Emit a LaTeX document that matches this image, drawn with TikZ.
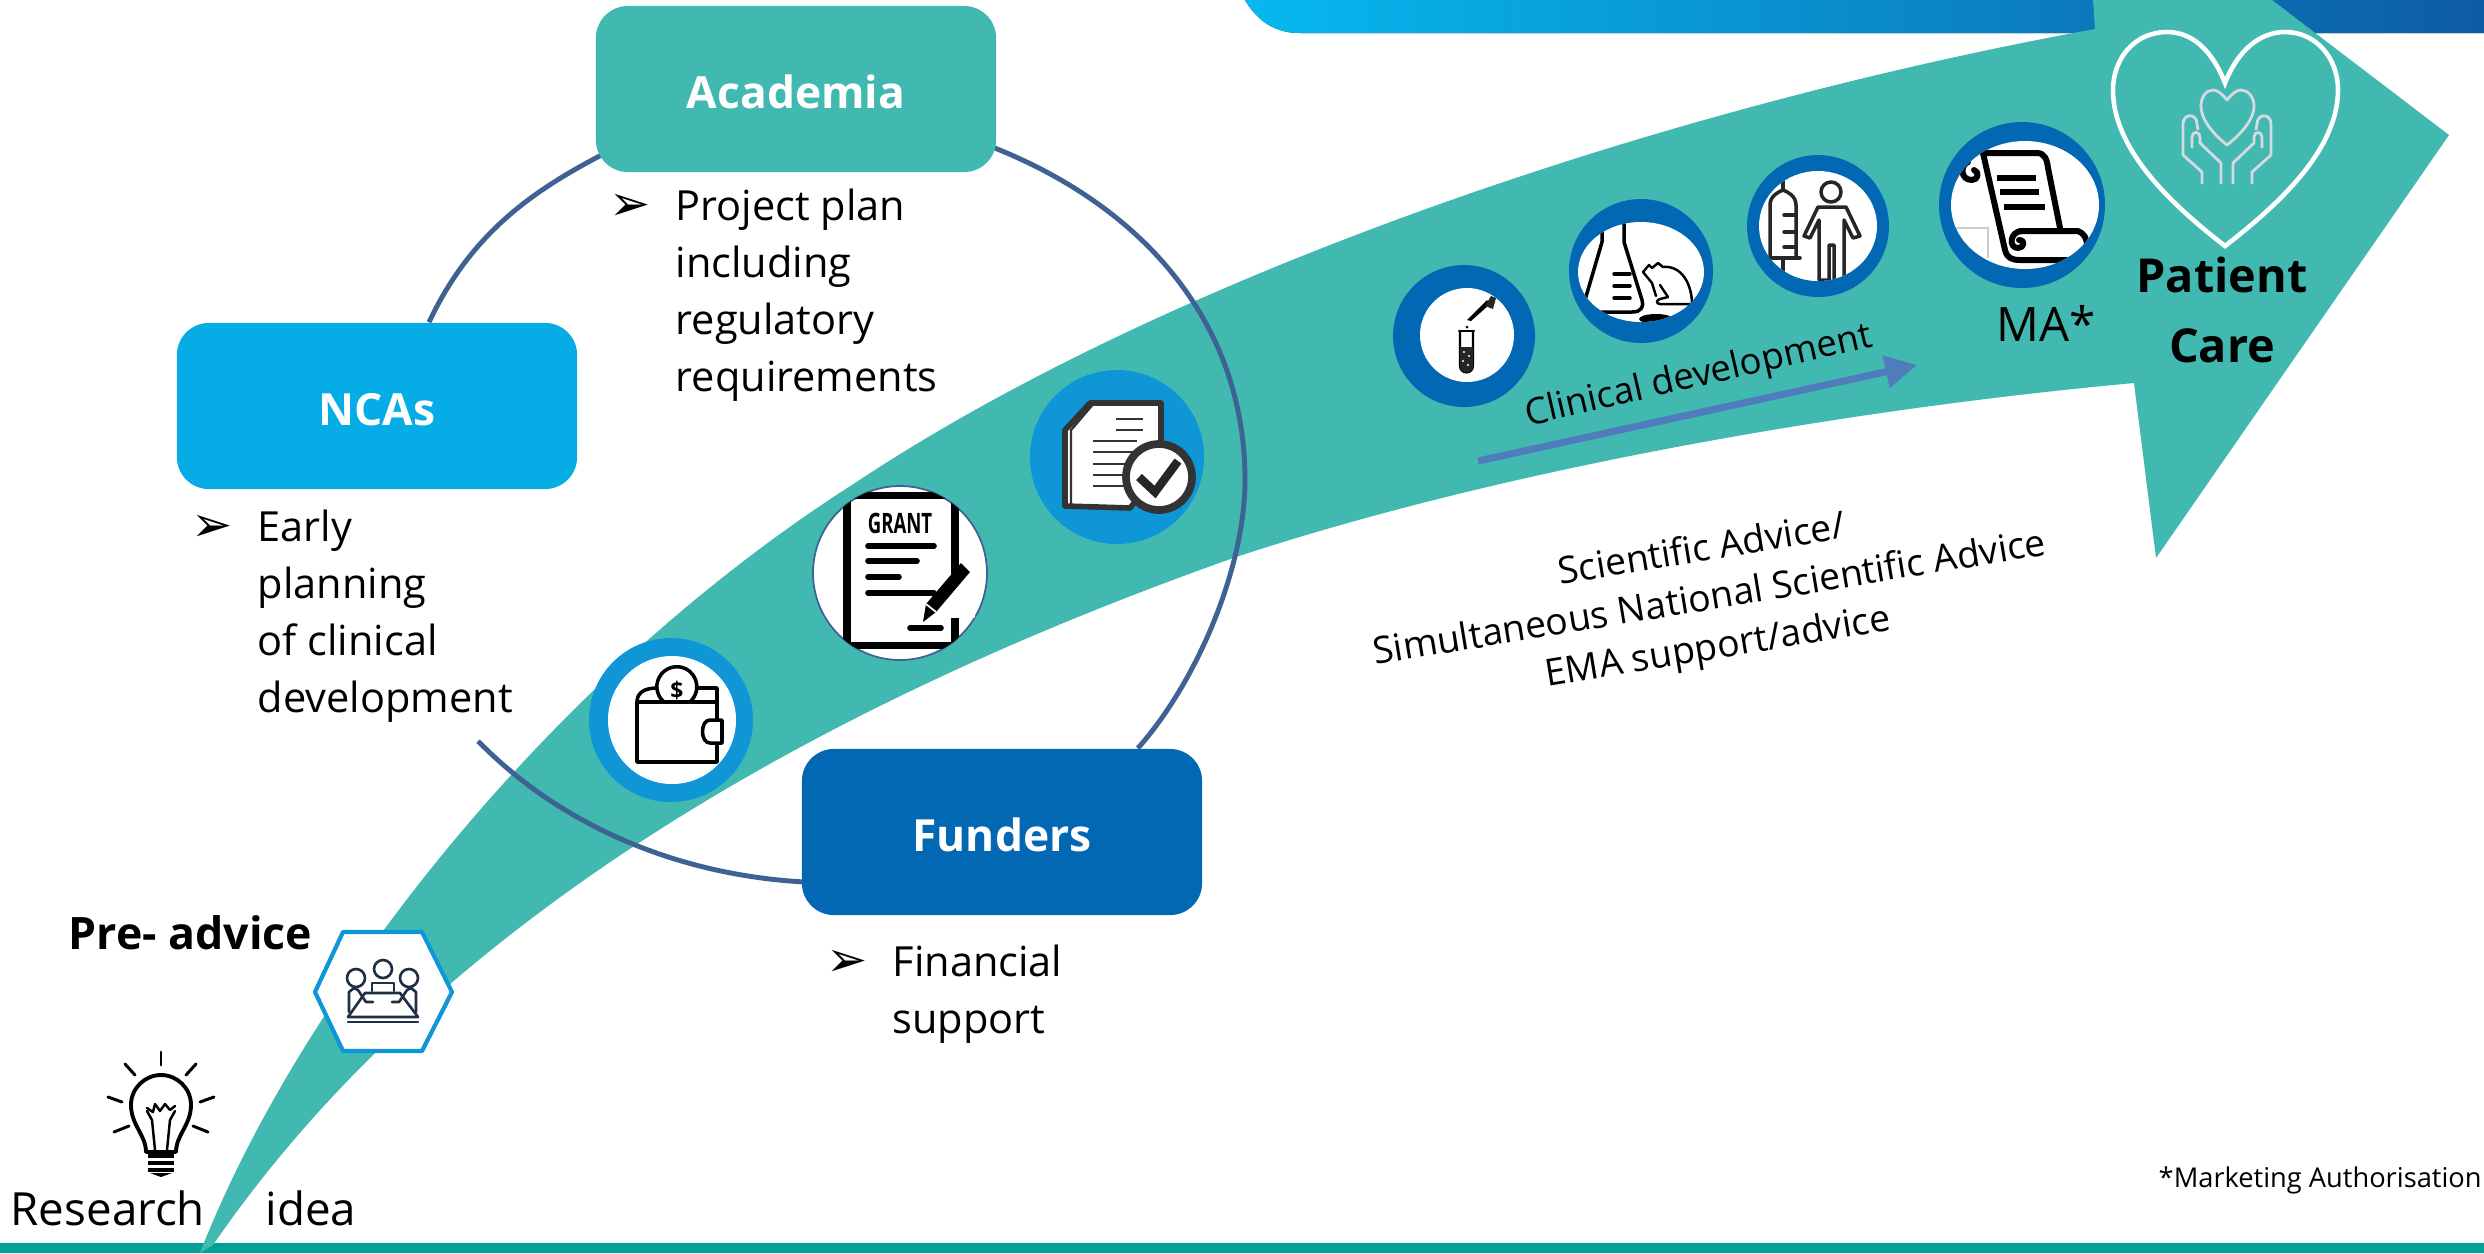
\documentclass[tikz,border=0pt]{standalone}
\usepackage{fontspec}
\setmainfont{Open Sans}
\newfontfamily\markfont{DejaVu Sans}
\usetikzlibrary{arrows.meta,backgrounds,calc}

\definecolor{arrowteal}{HTML}{41B9B1}
\definecolor{barteal}{HTML}{00A096}
\definecolor{ncablue}{HTML}{06ACE6}
\definecolor{deepblue}{HTML}{0368B4}
\definecolor{ringblue}{HTML}{0F96D7}
\definecolor{arcblue}{HTML}{3E6293}
\definecolor{flowblue}{HTML}{4F7DBB}
\definecolor{handgrey}{HTML}{D5DAE2}
\definecolor{iconnavy}{HTML}{1F2F45}
\definecolor{bannerleft}{HTML}{06B9EF}
\definecolor{bannermid}{HTML}{0585CC}
\definecolor{bannerright}{HTML}{0D5CA4}

\newcommand{\listmark}{\llap{{\markfont\fontsize{14}{14}\selectfont ➢}\hspace{7pt}}}

\tikzset{
  partner box/.style={rounded corners=0.32cm,minimum width=4cm,minimum height=1.66cm,
    inner sep=0pt,text=white,text height=11pt,text depth=0pt,font=\fontsize{12.6}{15}\selectfont\bfseries},
  list text/.style={anchor=north west,align=left,inner sep=0pt,font=\fontsize{11.8}{16.2}\selectfont},
  plain text/.style={inner sep=0pt,font=\fontsize{13}{15}\selectfont},
  bold text/.style={inner sep=0pt,align=center,font=\fontsize{13.3}{19.8}\selectfont\bfseries},
  slanted text/.style={inner sep=0pt,align=center,font=\fontsize{10.6}{14}\selectfont},
  arc line/.style={arcblue,line width=1.4pt},
  icon line/.style={black,line width=1pt,line cap=round,line join=round},
  thick icon/.style={black,line width=1.7pt,line cap=round,line join=round},
  ray line/.style={black,line width=0.85pt,line cap=round}
}

\begin{document}
\begin{tikzpicture}[x=0.01cm,y=-0.01cm]
    \useasboundingbox (0,0) rectangle (2484,1253);

    % partner boxes
    \node[partner box,fill=arrowteal] (academia) at (796,89) {Academia};
    \node[partner box,fill=ncablue] (ncas) at (377,406) {NCAs};
    \node[partner box,fill=deepblue] (funders) at (1002,832) {Funders};

    \begin{scope}[on background layer]
        \fill[left color=bannerleft,middle color=bannermid,right color=bannerright]
            (1245,0) .. controls (1258,22) and (1276,33) .. (1300,33) -- (2484,33) -- (2484,0) -- cycle;
        \fill[barteal] (0,1243) rectangle (2484,1253);

        % big arrow
        \fill[arrowteal] (200,1253) .. controls (290,1020) and (530,690) .. (855,483)
            .. controls (1160,280) and (1650,110) .. (2095,29)
            -- (2093,0) -- (2272,0) -- (2449,135) -- (2156,558) -- (2134,383)
            .. controls (1840,410) and (1500,470) .. (1236,557)
            .. controls (860,690) and (450,900) .. (213,1245)
            -- cycle;

        % ring of partners
        \coordinate (rightmid) at (1245,480);
        \coordinate (arcend) at (478,741);
        \draw[arc line] ($(ncas.north)+(52,0)$) .. controls (477,220) and (552,180) .. ($(academia.south west)+(30,-30)$);
        \draw[arc line] ($(academia.east)+(-15,54)$) .. controls (1143,203) and (1245,323) .. (rightmid)
            .. controls (1245,569) and (1196,683) .. ($(funders.north east)+(-65,0)$);
        \draw[arc line] ($(funders.south west)+(30,-33)$) .. controls (700,882) and (570,835) .. (arcend);
    \end{scope}

    % hexagon with meeting
    \draw[ringblue,fill=white,line width=1.2pt,line join=round] (315,992) -- (343,932) -- (422,932)
        -- (452,992) -- (422,1051) -- (343,1051) -- cycle;
    \begin{scope}[iconnavy,line width=0.75pt,line join=round,line cap=round]
        \draw (356,978) circle (9);
        \draw (383,969) circle (9);
        \draw (409,978) circle (9);
        \draw (372,991) -- (372,983) -- (394,983) -- (394,991);
        \draw (349,1012) -- (349,992) -- (354,988) -- (358,990) -- (366,1002) -- (373,1002);
        \draw (416,1012) -- (416,992) -- (411,988) -- (407,990) -- (399,1002) -- (392,1002);
        \draw (365,993) -- (400,993) -- (418,1017) -- (348,1017) -- cycle;
        \draw (348,1022) -- (418,1022);
    \end{scope}

    % light bulb
    \draw[thick icon,line width=1.1pt] (146,1152) .. controls (146,1135) and (131,1125) .. (131,1105)
        .. controls (131,1088) and (145,1075) .. (161,1075) .. controls (177,1075) and (191,1088) .. (191,1105)
        .. controls (191,1125) and (176,1135) .. (176,1152) -- cycle;
    \draw[icon line,line width=0.7pt] (155,1150) -- (152,1120) -- (147,1111);
    \draw[icon line,line width=0.7pt] (167,1150) -- (170,1120) -- (175,1111);
    \draw[icon line,line width=0.7pt] (147,1108) -- (153,1112) -- (155,1104) -- (160,1111) -- (165,1104) -- (170,1110) -- (175,1106);
    \foreach \ybulb in {1156,1163,1170}
        \draw[thick icon,line cap=butt,line width=0.9pt] (148,\ybulb) -- (174,\ybulb);
    \fill (150,1173) -- (172,1173) -- (161,1177) -- cycle;
    \draw[ray line] (161,1052) -- (161,1065);
    \draw[ray line] (125,1064) -- (135,1075);
    \draw[ray line] (196,1064) -- (186,1075);
    \draw[ray line] (108,1097) -- (122,1102);
    \draw[ray line] (214,1097) -- (200,1102);
    \draw[ray line] (114,1132) -- (129,1126);
    \draw[ray line] (208,1132) -- (193,1126);

    % wallet
    \fill[ringblue] (671,720) circle (82);
    \fill[white] (672,720) circle (64);
    \draw[icon line] (637,762) -- (637,702) -- (717,702) -- (717,762) -- cycle;
    \draw[icon line] (637,702) .. controls (637,693) and (644,688) .. (657,688);
    \draw[icon line] (697,688) -- (717,688) -- (717,702);
    \draw[icon line] (664,702) arc (130:410:20);
    \node[inner sep=0pt,font=\fontsize{6.5}{6.5}\selectfont\bfseries] (dollar) at (677,690) {\$};
    \draw[icon line,fill=white] (722,720) -- (722,743) -- (710,743) .. controls (700,743) and (700,720) .. (710,720) -- cycle;

    % grant
    \draw[arcblue,fill=white,line width=0.5pt] (900,573) circle (87);
    \begin{scope}
        \clip (900,573) circle (87);
        \draw[black,line width=2pt] (847,495) rectangle (955,645);
        \node[inner sep=0pt,xscale=0.66,font=\fontsize{8}{8}\selectfont\bfseries] (grant) at (900,523) {GRANT};
        \foreach \ygrant/\xgrant in {546/934,561/917,577/899,593/934}
            \draw[black,line width=1.6pt,line cap=round] (868,\ygrant) -- (\xgrant,\ygrant);
        \fill[white] (950,575) -- (975,575) -- (975,618) -- (950,618) -- cycle;
        \draw[black,line width=2pt] (955,618) -- (955,645);
        \fill[black] (923,622) -- (926,604) -- (961,563) -- (970,572) -- (936,612) -- cycle;
        \draw[white,line width=0.5pt] (926,604) -- (936,612);
        \draw[black,line width=1.6pt,line cap=round] (910,628) -- (941,628);
    \end{scope}

    % checked papers
    \fill[ringblue] (1117,457) circle (87);
    \draw[black!80,fill=white,line width=1.6pt,line join=round] (1065,506) -- (1065,430) -- (1090,403)
        -- (1161,403) -- (1161,470) -- (1130,508) -- cycle;
    \draw[black!80,line width=0.7pt] (1071,506) -- (1071,430) -- (1094,403);
    \foreach \ypaper in {441,452,464,475,486}
        \draw[black!80,line width=0.7pt] (1093,\ypaper) -- (1137,\ypaper);
    \foreach \ypaper in {419,430}
        \draw[black!80,line width=0.7pt] (1116,\ypaper) -- (1143,\ypaper);
    \draw[black!80,fill=white,line width=2.2pt] (1159,477) circle (33);
    \draw[black!85,line width=2.4pt] (1139,477) -- (1155,492) -- (1178,461);

    % test tube
    \fill[deepblue] (1464,336) circle (71);
    \fill[white] (1467,335) circle (47);
    \draw[icon line,line width=0.6pt] (1459,331) -- (1474,331);
    \draw[icon line,line width=0.6pt] (1460,331) -- (1460,366) arc (180:0:6.5) -- (1473,331);
    \fill[black!85] (1460,347) -- (1473,347) -- (1473,366) arc (0:180:6.5) -- cycle;
    \foreach \xspeck/\yspeck in {1464/352,1469/356,1463/361,1468/365}
        \fill[white] (\xspeck,\yspeck) circle (1.2);
    \fill[black] (1467,320) -- (1471,321) -- (1490,304) -- (1487,300) -- cycle;
    \fill[black!85] (1485,306) -- (1491,296) -- (1496,298) -- (1493,309) -- cycle;
    \fill[black] (1467,327) circle (1.5);

    % flask and rat
    \fill[deepblue] (1641,271) circle (72);
    \begin{scope}
        \fill[white] (1641,272) ellipse (63 and 50);
        \clip (1641,272) ellipse (63 and 50);
        \draw[icon line] (1602,215) -- (1602,242) -- (1585,300) .. controls (1582,310) and (1586,312) .. (1594,312)
            -- (1632,312) .. controls (1642,312) and (1644,306) .. (1642,300) -- (1624,242) -- (1624,215);
        \foreach \yflask in {274,286,298}
            \draw[icon line] (1614,\yflask) -- (1630,\yflask);
        \draw[icon line,line width=0.7pt] (1643,272) -- (1649,265) -- (1652,268) -- (1658,263) -- (1663,267)
            .. controls (1682,265) and (1692,285) .. (1692,304) -- (1660,304) .. controls (1656,304) and (1656,300) .. (1660,299) -- (1668,297)
            -- (1660,285);
        \draw[icon line,line width=0.7pt] (1643,272) -- (1652,283) -- (1656,296);
        \fill[black] (1656,319) ellipse (17 and 5);
    \end{scope}

    % syringe and person
    \fill[deepblue] (1818,226) circle (71);
    \begin{scope}
        \fill[white] (1818,226) ellipse (59 and 55);
        \clip (1818,226) ellipse (59 and 55);
        \draw[icon line,black!85] (1770,258) -- (1770,205) .. controls (1770,196) and (1778,192) .. (1783,190)
            .. controls (1788,192) and (1796,196) .. (1796,205) -- (1796,258);
        \draw[icon line,black!85] (1783,190) -- (1783,170);
        \draw[icon line,black!85] (1764,258) -- (1800,258);
        \draw[icon line,black!85] (1783,258) -- (1783,272);
        \foreach \ysyringe in {215,232,247}
            \draw[icon line,black!85] (1784,\ysyringe) -- (1796,\ysyringe);
        \draw[icon line,black!85] (1831,192) circle (10);
        \draw[icon line,black!85] (1818,207) -- (1846,207) -- (1860,236) -- (1853,238) -- (1844,220) -- (1844,280)
            -- (1834,280) -- (1834,245) -- (1829,245) -- (1829,280) -- (1819,280) -- (1819,220) -- (1810,238) -- (1804,236) -- cycle;
    \end{scope}

    % scroll
    \fill[deepblue] (2022,205) circle (83);
    \begin{scope}
        \fill[white] (2025,205) ellipse (74 and 64);
        \clip (2025,205) ellipse (74 and 64);
        \draw[black!20,line width=0.4pt] (1956,228) -- (1988,228) -- (1988,258);
        \draw[thick icon] (1983,153) -- (2037,153) .. controls (2045,153) and (2047,160) .. (2048,168) -- (2060,228);
        \draw[thick icon] (1983,153) -- (2005,250) .. controls (2007,258) and (2012,260) .. (2020,260) -- (2080,260);
        \draw[thick icon] (1968,162) .. controls (1960,165) and (1960,180) .. (1972,180) .. controls (1978,180) and (1980,172) .. (1974,170);
        \foreach \yscroll/\xscroll/\xscrollb in {178/1997/2036,192/2000/2039,207/2004/2045}
            \draw[black,line width=1.5pt] (\xscroll,\yscroll) -- (\xscrollb,\yscroll);
        \draw[thick icon] (2020,231) -- (2078,231) .. controls (2090,235) and (2090,255) .. (2078,258);
        \draw[thick icon] (2022,231) .. controls (2010,231) and (2008,248) .. (2018,248) .. controls (2024,248) and (2026,240) .. (2019,240);
    \end{scope}

    % heart with hands
    \draw[white,line width=1.3pt,line join=miter] (2225,83) .. controls (2212,50) and (2192,32) .. (2167,32)
        .. controls (2135,32) and (2113,58) .. (2113,90) .. controls (2113,150) and (2172,205) .. (2225,246)
        .. controls (2278,205) and (2338,150) .. (2338,90) .. controls (2338,58) and (2316,32) .. (2285,32)
        .. controls (2260,32) and (2238,50) .. cycle;
    \draw[handgrey,line width=0.8pt,line join=round] (2227,100) .. controls (2222,94) and (2218,90) .. (2213,90)
        .. controls (2206,90) and (2201,97) .. (2201,106) .. controls (2201,122) and (2218,138) .. (2227,145)
        .. controls (2236,138) and (2254,122) .. (2254,106) .. controls (2254,97) and (2248,90) .. (2241,90)
        .. controls (2236,90) and (2232,94) .. cycle;
    \foreach \handflip in {1,-1}{
        \begin{scope}[shift={(2227,0)},xscale=\handflip]
            \draw[handgrey,line width=0.8pt,line join=round] (-25,184) -- (-25,172) -- (-44,155) -- (-44,124)
                .. controls (-44,113) and (-30,113) .. (-30,124) -- (-29,130);
            \draw[handgrey,line width=0.8pt,line join=round] (-35,148) -- (-35,137) .. controls (-35,131) and (-27,131) .. (-27,137)
                -- (-27,143) -- (-6,163) -- (-6,184);
        \end{scope}
    }

    % clinical development arrow
    \coordinate (clinstart) at (1478,461);
    \coordinate (clinend) at (1917,365);
    \draw[flowblue,line width=2pt,-{Triangle[length=9pt,width=9pt]}] (clinstart) -- (clinend);

    % texts
    \node[plain text,anchor=base west] (research) at (10,1225) {Research};
    \node[plain text,anchor=base west] (idea) at (265,1225) {idea};
    \node[inner sep=0pt,anchor=west,font=\fontsize{12.7}{15}\selectfont\bfseries] (preadvice) at (68,933) {Pre- advice};
    \node[list text] (projectlist) at (675,188) {\listmark Project plan\\including\\regulatory\\requirements};
    \node[list text] (earlylist) at (257,509) {\listmark Early\\planning\\of clinical\\development};
    \node[list text] (supportlist) at (892,944) {\listmark Financial\\support};
    \node[slanted text,rotate=13,font=\fontsize{10.4}{14}\selectfont] (clinical) at (1699,377) {Clinical development};
    \node[plain text,anchor=center,font=\fontsize{13.5}{15}\selectfont] (ma) at (2046,323) {MA*};
    \node[bold text] (patient) at (2222,310) {Patient\\Care};
    \node[slanted text,rotate=9.3] (advice) at (1710,600) {Scientific Advice/\\Simultaneous National Scientific Advice\\EMA support/advice};
    \node[inner sep=0pt,anchor=west,font=\fontsize{7.75}{9}\selectfont] (footnote) at (2158,1180) {*Marketing Authorisation};
\end{tikzpicture}
\end{document}
